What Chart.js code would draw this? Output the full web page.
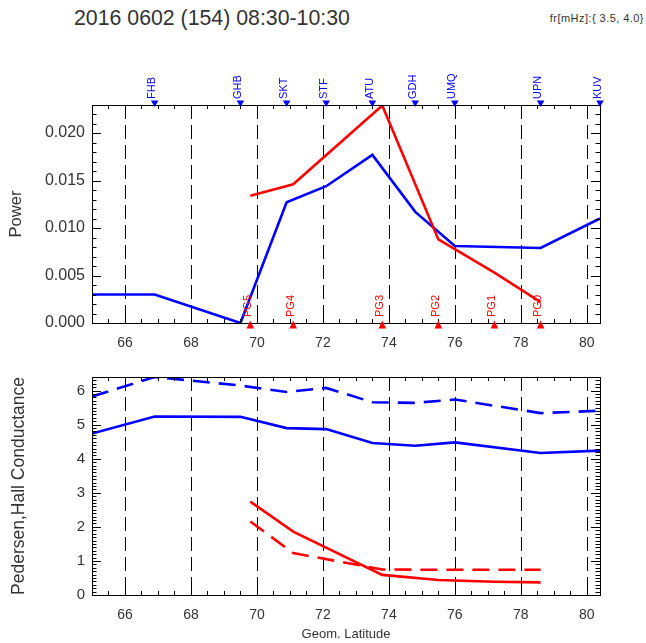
<!DOCTYPE html>
<html>
<head>
<meta charset="utf-8">
<script src="https://cdn.jsdelivr.net/npm/chart.js@4.4.1/dist/chart.umd.min.js"></script>
<style>
html,body{margin:0;padding:0;background:#fff;}
#wrap{position:relative;width:646px;height:643px;overflow:hidden;background:#fff;font-family:"Liberation Sans",Arial,sans-serif;}
#title{position:absolute;left:74px;top:8px;font-size:21.3px;line-height:21px;color:#333;white-space:nowrap;}
#freq{position:absolute;right:2px;top:13px;font-size:11px;line-height:11px;letter-spacing:0.45px;color:#333;white-space:nowrap;}
#c1{position:absolute;left:0;top:0;}
#c2{position:absolute;left:0;top:355px;}
</style>
</head>
<body>
<div id="wrap">
  <div id="title">2016 0602 (154) 08:30-10:30</div>
  <div id="freq">fr[mHz]:{ 3.5, 4.0}</div>
  <canvas id="c1" width="646" height="355" style="width:646px;height:355px"></canvas>
  <canvas id="c2" width="646" height="288" style="width:646px;height:288px"></canvas>
</div>
<script>
// ---------------- data ----------------
const stationNames = ['FHB','GHB','SKT','STF','ATU','GDH','UMQ','UPN','KUV'];
const stationLat   = [66.9, 69.5, 70.9, 72.1, 73.5, 74.8, 76.0, 78.6, 80.4];
const pgNames = ['PG5','PG4','PG3','PG2','PG1','PG0'];
const pgLat   = [69.8, 71.1, 73.8, 75.5, 77.2, 78.6];

// ground-magnetometer chain (first point is the west edge of the plot)
const groundLat    = [65.0, 66.9, 69.5, 70.9, 72.1, 73.5, 74.8, 76.0, 78.6, 80.4];
const groundPower  = [0.0030, 0.0030, 0.0000, 0.0127, 0.0144, 0.0177, 0.0117, 0.0081, 0.0079, 0.0110];
const groundSigmaP = [4.74, 5.24, 5.23, 4.90, 4.87, 4.46, 4.38, 4.48, 4.17, 4.24];
const groundSigmaH = [5.83, 6.40, 6.15, 5.96, 6.08, 5.66, 5.64, 5.74, 5.34, 5.41];

// PG chain
const pgPower  = [0.0134, 0.0146, 0.0229, 0.0088, 0.0053, 0.0022];
const pgSigmaP = [2.74, 1.86, 0.59, 0.44, 0.39, 0.37];
const pgSigmaH = [2.16, 1.23, 0.75, 0.74, 0.74, 0.74];

const latTicks   = [66, 68, 70, 72, 74, 76, 78, 80];
const powerTicks = [0, 0.005, 0.010, 0.015, 0.020];
const condTicks  = [0, 1, 2, 3, 4, 5, 6];

// ---------------- helpers ----------------
const FONT = '"Liberation Sans", Arial, sans-serif';
const BLUE = '#0000ff', RED = '#ff0000', TXT = '#333333';
const pts = (xs, ys) => xs.map((x, i) => ({x: x, y: ys[i]}));

function line(data, color, dashed) {
  return {data: data, borderColor: color, borderWidth: 2.6, pointRadius: 0, fill: false,
          tension: 0, borderDash: dashed ? [17, 9] : [], showLine: true};
}

function frameTicksPlugin(yMinor, yMajorEvery, yMax) {
  return {
    id: 'frameTicks',
    beforeDatasetsDraw(chart) {
      const {ctx, chartArea: a, scales: {x}} = chart;
      ctx.save();
      ctx.strokeStyle = '#000';
      ctx.lineWidth = 1;
      ctx.setLineDash([14, 6]);
      latTicks.forEach(v => {
        const px = Math.round(x.getPixelForValue(v)) + 0.5;
        ctx.beginPath(); ctx.moveTo(px, a.top); ctx.lineTo(px, a.bottom); ctx.stroke();
      });
      ctx.restore();
    },
    afterDraw(chart) {
      const {ctx, chartArea: a, scales: {x, y}} = chart;
      ctx.save();
      ctx.strokeStyle = '#000';
      ctx.lineWidth = 1;
      ctx.setLineDash([]);
      ctx.strokeRect(Math.round(a.left) + 0.5, Math.round(a.top) + 0.5,
                     Math.round(a.right - a.left), Math.round(a.bottom - a.top));
      ctx.beginPath();
      // x ticks every 0.5, major every 2
      for (let i = 131; i <= 160; i++) {
        const v = i / 2;
        const px = Math.round(x.getPixelForValue(v)) + 0.5;
        const len = (i % 4 === 0) ? 8 : 4;
        ctx.moveTo(px, a.bottom); ctx.lineTo(px, a.bottom - len);
        ctx.moveTo(px, a.top); ctx.lineTo(px, a.top + len);
      }
      // y ticks
      const n = Math.floor(yMax / yMinor + 1e-6);
      for (let i = 1; i <= n; i++) {
        const v = i * yMinor;
        const py = Math.round(y.getPixelForValue(v)) + 0.5;
        const len = (i % yMajorEvery === 0) ? 9 : 4.5;
        ctx.moveTo(a.left, py); ctx.lineTo(a.left + len, py);
        ctx.moveTo(a.right, py); ctx.lineTo(a.right - len, py);
      }
      ctx.stroke();
      ctx.restore();
    }
  };
}

const stationPlugin = {
  id: 'stations',
  afterDraw(chart) {
    const {ctx, chartArea: a, scales: {x}} = chart;
    ctx.save();
    ctx.font = '11px ' + FONT;
    ctx.textAlign = 'left';
    ctx.textBaseline = 'alphabetic';
    // ground stations (top, blue)
    stationLat.forEach((lat, i) => {
      const px = x.getPixelForValue(lat);
      ctx.fillStyle = BLUE;
      ctx.beginPath();
      ctx.moveTo(px - 3.8, a.top - 4.5);
      ctx.lineTo(px + 3.8, a.top - 4.5);
      ctx.lineTo(px, a.top + 2);
      ctx.closePath(); ctx.fill();
      ctx.save();
      ctx.translate(px + 0.5, a.top - 6);
      ctx.rotate(-Math.PI / 2);
      ctx.fillText(stationNames[i], 0, 0);
      ctx.restore();
    });
    // PG stations (bottom, red)
    pgLat.forEach((lat, i) => {
      const px = x.getPixelForValue(lat);
      ctx.fillStyle = RED;
      ctx.beginPath();
      ctx.moveTo(px - 3.8, a.bottom + 5.5);
      ctx.lineTo(px + 3.8, a.bottom + 5.5);
      ctx.lineTo(px, a.bottom - 2.5);
      ctx.closePath(); ctx.fill();
      ctx.save();
      ctx.translate(px + 0.3, a.bottom - 6);
      ctx.rotate(-Math.PI / 2);
      ctx.fillText(pgNames[i], 0, 0);
      ctx.restore();
    });
    ctx.restore();
  }
};

function xAxis(height, withTitle) {
  return {
    type: 'linear', min: 65, max: 80.4,
    afterBuildTicks: s => { s.ticks = latTicks.map(v => ({value: v})); },
    afterFit: s => { s.height = height; },
    grid: {display: false, drawTicks: false},
    border: {display: false},
    ticks: {color: TXT, font: {family: FONT, size: 14}, padding: 12, maxRotation: 0,
            autoSkip: false, callback: v => String(v)},
    title: withTitle ? {display: true, text: 'Geom. Latitude', color: TXT,
                        font: {family: FONT, size: 13}, padding: {top: 0, bottom: 1}}
                     : {display: false}
  };
}

// ---------------- top panel: Power ----------------
new Chart(document.getElementById('c1'), {
  type: 'line',
  data: {
    datasets: [
      line(pts(pgLat, pgPower), RED, false),
      line(pts(groundLat, groundPower), BLUE, false)
    ]
  },
  options: {
    responsive: false, animation: false, devicePixelRatio: 1,
    layout: {padding: {left: 0, right: 46, top: 105, bottom: 0}},
    plugins: {legend: {display: false}, tooltip: {enabled: false}},
    scales: {
      x: xAxis(32, false),
      y: {
        type: 'linear', min: 0, max: 0.02295,
        afterBuildTicks: s => { s.ticks = powerTicks.map(v => ({value: v})); },
        afterFit: s => { s.width = 92; },
        grid: {display: false, drawTicks: false},
        border: {display: false},
        ticks: {color: TXT, font: {family: FONT, size: 16}, padding: 7,
                callback: v => Number(v).toFixed(3)},
        title: {display: true, text: 'Power', color: TXT,
                font: {family: FONT, size: 16.5}, padding: {top: 7, bottom: 0}}
      }
    }
  },
  plugins: [frameTicksPlugin(0.001, 5, 0.0229), stationPlugin]
});

// ---------------- bottom panel: Conductance ----------------
new Chart(document.getElementById('c2'), {
  type: 'line',
  data: {
    datasets: [
      line(pts(pgLat, pgSigmaP), RED, false),
      line(pts(pgLat, pgSigmaH), RED, true),
      line(pts(groundLat, groundSigmaP), BLUE, false),
      line(pts(groundLat, groundSigmaH), BLUE, true)
    ]
  },
  options: {
    responsive: false, animation: false, devicePixelRatio: 1,
    layout: {padding: {left: 0, right: 46, top: 22, bottom: 0}},
    plugins: {legend: {display: false}, tooltip: {enabled: false}},
    scales: {
      x: xAxis(48, true),
      y: {
        type: 'linear', min: 0, max: 6.4,
        afterBuildTicks: s => { s.ticks = condTicks.map(v => ({value: v})); },
        afterFit: s => { s.width = 92; },
        grid: {display: false, drawTicks: false},
        border: {display: false},
        ticks: {color: TXT, font: {family: FONT, size: 15}, padding: 7,
                callback: v => String(v)},
        title: {display: true, text: 'Pedersen,Hall Conductance', color: TXT,
                font: {family: FONT, size: 17.5}, padding: {top: 9, bottom: 0}}
      }
    }
  },
  plugins: [frameTicksPlugin(0.1, 10, 6.4)]
});
</script>
</body>
</html>
